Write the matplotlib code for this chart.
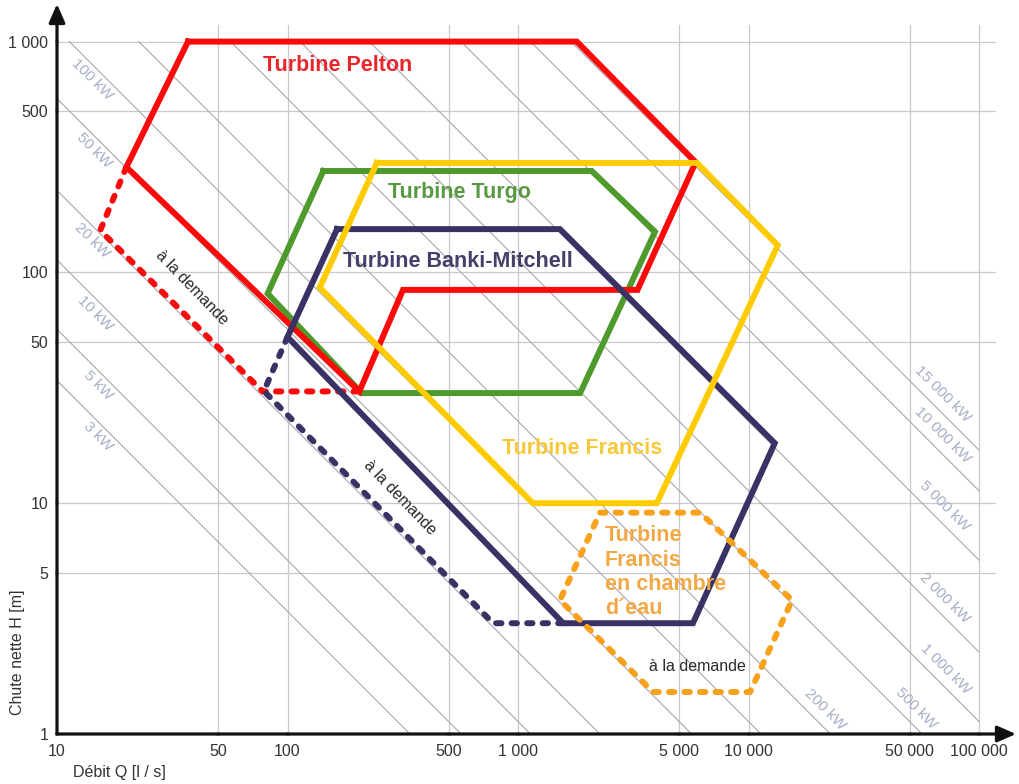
import numpy as np
import matplotlib
matplotlib.use("Agg")
import matplotlib.pyplot as plt
from matplotlib.ticker import NullLocator, FixedLocator, FixedFormatter

plt.rcParams['font.family'] = ['Liberation Sans', 'DejaVu Sans']

# ---------------- data ----------------
x_ticks = [10, 50, 100, 500, 1000, 5000, 10000, 50000, 100000]
x_tick_labels = ["10", "50", "100", "500", "1 000", "5 000", "10 000", "50 000", "100 000"]
y_ticks = [1, 5, 10, 50, 100, 500, 1000]
y_tick_labels = ["1", "5", "10", "50", "100", "500", "1 000"]

# iso-power lines (kW), P = 9.81 * eta * Q[m3/s] * H
power_kw = [3, 5, 10, 20, 50, 100, 200, 500, 1000, 2000, 5000, 10000, 15000]
power_labels = ["3 kW", "5 kW", "10 kW", "20 kW", "50 kW", "100 kW", "200 kW", "500 kW",
                "1 000 kW", "2 000 kW", "5 000 kW", "10 000 kW", "15 000 kW"]
power_label_q = [15.1, 15.1, 14.7, 14.2, 14.5, 14.2, 21500, 53300, 71300, 70600, 70600, 69200, 69200]
efficiency = 0.9

# turbine domains (Q in l/s, H in m)
pelton_q = [37, 1800, 5900, 3300, 317, 205, 20]
pelton_h = [1000, 1000, 300, 84, 84, 30.5, 286]
pelton_dash_q = [20, 15.4, 78, 205]
pelton_dash_h = [286, 152, 30.5, 30.5]

turgo_q = [143, 2090, 3930, 1860, 210, 82]
turgo_h = [275, 275, 150, 30, 30, 81]

francis_q = [244, 5980, 13400, 4000, 1160, 138]
francis_h = [298, 298, 131, 10, 10, 86]

banki_q = [164, 1520, 13000, 5740, 1570, 100]
banki_h = [154, 154, 18.2, 3.02, 3.02, 52.5]
banki_dash_q = [100, 79, 780, 1570]
banki_dash_h = [52.5, 30.6, 3.02, 3.02]

chambre_q = [2270, 6170, 15450, 10160, 3855, 1520]
chambre_h = [9.1, 9.1, 3.8, 1.52, 1.52, 3.8]

# ---------------- figure ----------------
W, H = 1019, 784
fig = plt.figure(figsize=(W / 100, H / 100), dpi=100)
x0_px, x1_px, yb_px, yt_px = 57, 1016, 734, 4
dec_x, dec_y = 230.5, 230.8
ax = fig.add_axes([x0_px / W, 1 - yb_px / H, (x1_px - x0_px) / W, (yb_px - yt_px) / H])
ax.set_xscale('log')
ax.set_yscale('log')
ax.set_xlim(10, 10 ** (1 + (x1_px - x0_px) / dec_x))
ax.set_ylim(1, 10 ** ((yb_px - yt_px) / dec_y))
for s in ax.spines.values():
    s.set_visible(False)

ax.xaxis.set_major_locator(FixedLocator(x_ticks))
ax.xaxis.set_major_formatter(FixedFormatter(x_tick_labels))
ax.yaxis.set_major_locator(FixedLocator(y_ticks))
ax.yaxis.set_major_formatter(FixedFormatter(y_tick_labels))
ax.xaxis.set_minor_locator(NullLocator())
ax.yaxis.set_minor_locator(NullLocator())
ax.tick_params(axis='both', length=2.5, width=3, color='#babad8', direction='inout',
               labelsize=11.5, labelcolor='#333333')
ax.tick_params(axis='x', pad=6)
ax.tick_params(axis='y', pad=5)

# grid
grid_c = '#c8c8ce'
for q in x_ticks[1:]:
    ax.plot([q, q], [1, 10 ** 3.07], color=grid_c, lw=0.9, zorder=1)
for h in y_ticks[1:]:
    ax.plot([10, 10 ** 5.07], [h, h], color=grid_c, lw=0.9, zorder=1)

# iso-power lines
k = 9.81 * efficiency / 1000.0
for p, lab, ql in zip(power_kw, power_labels, power_label_q):
    qa = max(10, p / (k * 1000))
    qb = min(100000, p / (k * 1))
    ax.plot([qa, qb], [p / (k * qa), p / (k * qb)], color='#a2a2aa', lw=0.75, zorder=1.5)
    off = -15 if p <= 100 else 19
    ax.annotate(lab, xy=(ql, p / (k * ql)), xytext=(0, off), textcoords='offset pixels',
                rotation=-45, ha='center', va='center', rotation_mode='anchor',
                fontsize=11, color='#a7adc6', zorder=1.6)

# turbine domains
lw = 4.3
dash = (0, (0.9, 1.7))
def poly(q, h, color, z):
    ax.plot(q + q[:1], h + h[:1], color=color, lw=lw, solid_joinstyle='miter', zorder=z)

poly(turgo_q, turgo_h, '#4e9a2c', 3)
poly(pelton_q, pelton_h, '#fa0a0a', 3.1)
ax.plot(pelton_dash_q, pelton_dash_h, color='#fa0a0a', lw=lw, linestyle=dash,
        dash_capstyle='round', zorder=3.1)
poly(banki_q, banki_h, '#3a3264', 3.2)
ax.plot(banki_dash_q, banki_dash_h, color='#3a3264', lw=lw, linestyle=dash,
        dash_capstyle='round', zorder=3.2)
poly(francis_q, francis_h, '#fecb00', 3.3)
ax.plot(chambre_q + chambre_q[:1], chambre_h + chambre_h[:1], color='#f7a11c', lw=lw,
        linestyle=dash, dash_capstyle='round', zorder=3.4)

# texts
tfs = 15.5
ax.text(78, 791, 'Turbine Pelton', color='#e8262c', fontsize=tfs, fontweight='bold',
        ha='left', va='center', zorder=5)
ax.text(273, 221, 'Turbine Turgo', color='#5a9842', fontsize=tfs, fontweight='bold',
        ha='left', va='center', zorder=5)
ax.text(174, 111, 'Turbine Banki-Mitchell', color='#44406a', fontsize=tfs, fontweight='bold',
        ha='left', va='center', zorder=5)
ax.text(853, 17.3, 'Turbine Francis', color='#f6c83a', fontsize=tfs, fontweight='bold',
        ha='left', va='center', zorder=5)
ax.text(2383, 5.02, 'Turbine\nFrancis\nen chambre\nd\u00b4eau', color='#f2a845', fontsize=tfs,
        fontweight='bold', ha='left', va='center', linespacing=1.21, zorder=5)

dfs = 11.5
ax.text(38.5, 85.5, '\u00e0 la demande', rotation=-46, color='#2a2a2a', fontsize=dfs,
        ha='center', va='center', rotation_mode='anchor', zorder=5)
ax.text(307, 10.6, '\u00e0 la demande', rotation=-46, color='#2a2a2a', fontsize=dfs,
        ha='center', va='center', rotation_mode='anchor', zorder=5)
ax.text(5980, 1.97, '\u00e0 la demande', color='#2a2a2a', fontsize=dfs,
        ha='center', va='center', zorder=5)

# axes with arrows
arrow_kw = dict(arrowstyle='-|>,head_length=0.8,head_width=0.35', lw=2.3, color='#111111',
                mutation_scale=14, shrinkA=0, shrinkB=0)
ax.annotate('', xy=(0, 1), xytext=(0, 0), xycoords='axes fraction',
            arrowprops=arrow_kw, zorder=2, annotation_clip=False)
ax.annotate('', xy=(1, 0), xytext=(0, 0), xycoords='axes fraction',
            arrowprops=arrow_kw, zorder=2, annotation_clip=False)

fig.text(18 / W, 1 - 652 / H, 'Chute nette H [m]', rotation=90, ha='center', va='center',
         fontsize=11.5, color='#333333')
fig.text(73 / W, 1 - 773 / H, 'D\u00e9bit Q [l / s]', ha='left', va='center',
         fontsize=11.5, color='#333333')

fig.savefig('out.png', dpi=100, facecolor='white')
